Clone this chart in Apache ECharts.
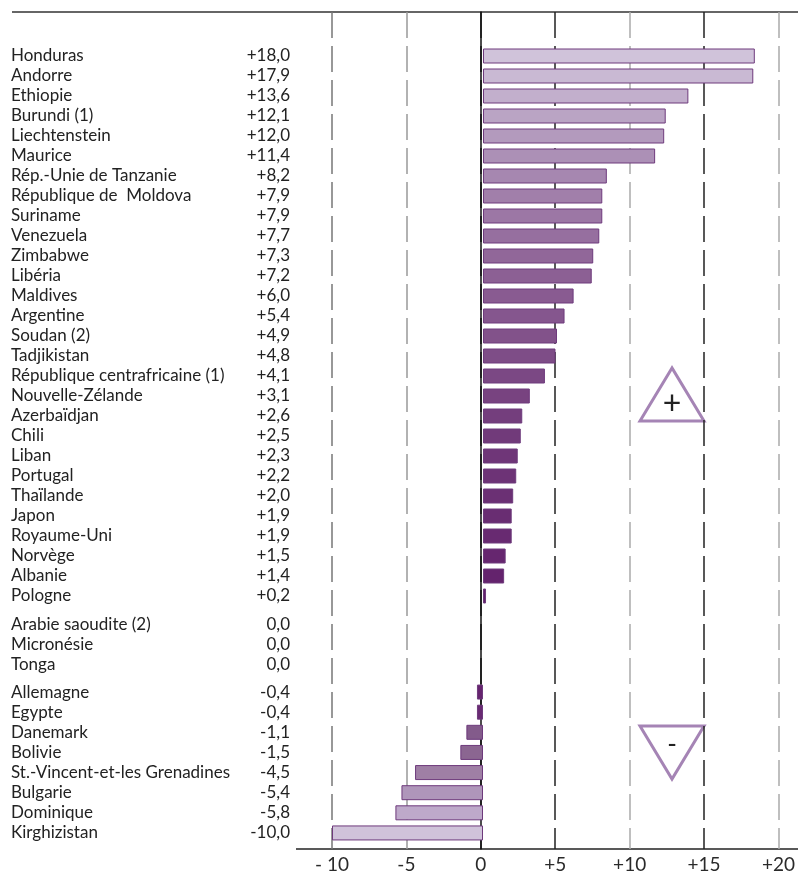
<!DOCTYPE html>
<html>
<head>
<meta charset="utf-8">
<script src="https://cdn.jsdelivr.net/npm/echarts@6/dist/echarts.min.js"></script>
<style>
  html, body { margin: 0; padding: 0; background: #fff; }
  #container { width: 798px; height: 893px; }
</style>
</head>
<body>
<div id="container"></div>
<script>
// data
var posNames = ['Honduras', 'Andorre', 'Ethiopie', 'Burundi (1)', 'Liechtenstein', 'Maurice',
    'Rép.-Unie de Tanzanie', 'République de  Moldova', 'Suriname', 'Venezuela', 'Zimbabwe',
    'Libéria', 'Maldives', 'Argentine', 'Soudan (2)', 'Tadjikistan', 'République centrafricaine (1)',
    'Nouvelle-Zélande', 'Azerbaïdjan', 'Chili', 'Liban', 'Portugal', 'Thaïlande', 'Japon',
    'Royaume-Uni', 'Norvège', 'Albanie', 'Pologne'];
var posValues = [18.0, 17.9, 13.6, 12.1, 12.0, 11.4, 8.2, 7.9, 7.9, 7.7, 7.3, 7.2, 6.0, 5.4,
    4.9, 4.8, 4.1, 3.1, 2.6, 2.5, 2.3, 2.2, 2.0, 1.9, 1.9, 1.5, 1.4, 0.2];
var zeroNames = ['Arabie saoudite (2)', 'Micronésie', 'Tonga'];
var zeroValues = [0.0, 0.0, 0.0];
var negNames = ['Allemagne', 'Egypte', 'Danemark', 'Bolivie', 'St.-Vincent-et-les Grenadines',
    'Bulgarie', 'Dominique', 'Kirghizistan'];
var negValues = [-0.4, -0.4, -1.1, -1.5, -4.5, -5.4, -5.8, -10.0];
var tickLabels = {'-10': '- 10', '-5': '-5', '0': '0', '5': '+5', '10': '+10', '15': '+15', '20': '+20'};

var FONT = 'Lato, "Open Sans", sans-serif';

function fmt(v) {
    var s = Math.abs(v).toFixed(1).replace('.', ',');
    if (v > 0) return '+' + s;
    if (v < 0) return '-' + s;
    return s;
}

function hex2rgb(h) {
    return [parseInt(h.substr(1, 2), 16), parseInt(h.substr(3, 2), 16), parseInt(h.substr(5, 2), 16)];
}
function ramp(stops, t) {
    for (var i = 0; i < stops.length - 1; i++) {
        if (t <= stops[i + 1][0]) {
            var a = stops[i], b = stops[i + 1];
            var k = (t - a[0]) / (b[0] - a[0]);
            var ca = hex2rgb(a[1]), cb = hex2rgb(b[1]);
            return 'rgb(' + ca.map(function (c, j) { return Math.round(c + (cb[j] - c) * k); }).join(',') + ')';
        }
    }
    return stops[stops.length - 1][1];
}
var posStops = [[0, '#d0c3da'], [0.2, '#a98cb3'], [0.4, '#8d6195'], [0.7, '#713a7a'], [1, '#62206b']];
var negStops = [[0, '#66246f'], [0.15, '#692a73'], [0.3, '#86608e'], [0.45, '#8c6792'], [0.6, '#a385a9'], [0.75, '#b39bbf'], [0.88, '#c0accc'], [1, '#d0c3da']];

var groups = [
    {names: posNames, values: posValues, top: 46, height: 560, stops: posStops},
    {names: zeroNames, values: zeroValues, top: 615, height: 60, stops: posStops},
    {names: negNames, values: negValues, top: 682, height: 161, stops: negStops}
];

var grids = [{left: 332, right: 13, top: 12, bottom: 44}];
var xAxes = [{
    gridIndex: 0, type: 'value', min: -10, max: 20, interval: 5,
    axisLine: {show: false}, axisTick: {show: false},
    axisLabel: {
        margin: 6, color: '#2a2a2a', fontFamily: FONT, fontSize: 19,
        formatter: function (v) { return tickLabels[v]; }
    },
    splitLine: {
        show: true,
        lineStyle: {type: [26, 8], width: 1.5, color: ['#777', '#999', '#222', '#222', '#aaa', '#222', '#aaa']}
    }
}];
var yAxes = [{
    gridIndex: 0, type: 'value', min: 0, max: 1,
    axisLine: {show: true, onZero: true, lineStyle: {color: '#111', width: 1.5}},
    axisTick: {show: false}, axisLabel: {show: false}, splitLine: {show: false}
}];
var series = [];

groups.forEach(function (g, gi) {
    var idx = gi + 1;
    grids.push({left: 332, right: 13, top: g.top, height: g.height});
    xAxes.push({gridIndex: idx, type: 'value', min: -10, max: 20, interval: 5, show: false});
    yAxes.push({
        gridIndex: idx, type: 'category', inverse: true, data: g.names,
        axisLine: {show: false}, axisTick: {show: false}, splitLine: {show: false},
        axisLabel: {
            align: 'left', margin: 321,
            formatter: function (name, i) {
                return '{n|' + name + '}{v|' + fmt(g.values[i]) + '}';
            },
            rich: {
                n: {width: 222, align: 'left', fontFamily: FONT, fontSize: 17, color: '#222'},
                v: {width: 57, align: 'right', fontFamily: FONT, fontSize: 17, color: '#222'}
            }
        }
    });
    var n = g.values.length;
    series.push({
        type: 'bar', xAxisIndex: idx, yAxisIndex: idx,
        data: g.values, barWidth: 15, animation: false,
        itemStyle: {
            borderColor: '#6e3a7c', borderWidth: gi === 1 ? 0 : 1,
            color: function (p) { return ramp(g.stops, n > 1 ? p.dataIndex / (n - 1) : 0); }
        }
    });
});

var myChart = echarts.init(document.getElementById('container'));
var option = {
    backgroundColor: '#fff',
    animation: false,
    grid: grids,
    xAxis: xAxes,
    yAxis: yAxes,
    series: series,
    graphic: [
        {type: 'line', shape: {x1: 12, y1: 12, x2: 798, y2: 12}, style: {stroke: '#333', lineWidth: 1.5}},
        {type: 'line', shape: {x1: 296, y1: 849, x2: 798, y2: 849}, style: {stroke: '#222', lineWidth: 1.5}},
        {type: 'polygon', shape: {points: [[672, 368], [640, 421], [704, 421]]},
            style: {fill: 'none', stroke: '#a584b5', lineWidth: 3}},
        {type: 'text', x: 672, y: 404, style: {text: '+', fontSize: 32, fontFamily: FONT, fill: '#222', align: 'center', verticalAlign: 'middle'}},
        {type: 'polygon', shape: {points: [[640, 726], [704, 726], [672, 779]]},
            style: {fill: 'none', stroke: '#a584b5', lineWidth: 3}},
        {type: 'text', x: 672, y: 745, style: {text: '-', fontSize: 26, fontFamily: FONT, fill: '#222', align: 'center', verticalAlign: 'middle'}}
    ]
};
myChart.setOption(option);
</script>
</body>
</html>
